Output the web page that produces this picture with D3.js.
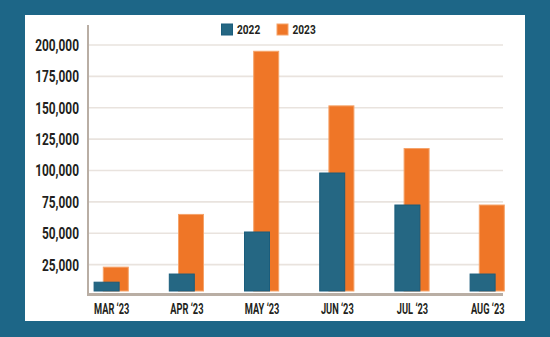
<!DOCTYPE html>
<html><head><meta charset="utf-8">
<script src="https://cdn.jsdelivr.net/npm/d3@7"></script>
<style>
html,body{margin:0;padding:0;background:#1d6687;}
svg{display:block;}
text{font-family:Roboto,"Liberation Sans",sans-serif;font-weight:bold;fill:#231f20;}
</style></head><body>
<svg id="c" width="550" height="337"></svg>
<script>
const months = ["MAR \u201823","APR \u201823","MAY \u201823","JUN \u201823","JUL \u201823","AUG \u201823"];
const values2022 = [11000, 17500, 51000, 98000, 72500, 17500];
const values2023 = [23000, 65000, 195000, 151500, 117500, 72500];
const seriesNames = ["2022","2023"];
const yTicks = [25000,50000,75000,100000,125000,150000,175000,200000];

const FONT = "Roboto,'Liberation Sans',sans-serif";
const svg = d3.select("#c");
svg.append("rect").attr("x",0).attr("y",0).attr("width",550).attr("height",337).attr("fill","#1d6687");
svg.append("rect").attr("x",25).attr("y",15).attr("width",500).attr("height",306).attr("fill","#ffffff");

const y = d3.scaleLinear().domain([0,200000]).range([296,45]);
const x = d3.scalePoint().domain(months).range([111.2,487.2]);
const bw = 26, off = 4.6;

// gridlines
svg.append("g").selectAll("line").data(yTicks).join("line")
  .attr("x1",89).attr("x2",503).attr("y1",d=>y(d)).attr("y2",d=>y(d))
  .attr("stroke","#e9e3de").attr("stroke-width",1.6);

// y axis labels
const yAxis = d3.axisLeft(y).tickValues(yTicks).tickFormat(d3.format(",")).tickSize(0).tickPadding(0);
const ga = svg.append("g").attr("transform","translate(79,0)").call(yAxis);
ga.select(".domain").remove();
ga.selectAll("text").attr("font-size",17).attr("fill","#231f20").attr("x",0)
  .attr("font-family",FONT).attr("font-weight","bold").attr("transform","scale(0.7,1)");

// bars 2023 (behind)
svg.append("g").selectAll("rect").data(values2023).join("rect")
  .attr("x",(d,i)=>x(months[i])+off-bw/2+0.5).attr("width",bw-1)
  .attr("y",d=>y(d)).attr("height",d=>y(0)-5-y(d))
  .attr("fill","#ef7627").attr("stroke","#f5a36a").attr("stroke-width",1);
// bars 2022 (front)
svg.append("g").selectAll("rect").data(values2022).join("rect")
  .attr("x",(d,i)=>x(months[i])-off-bw/2+0.5).attr("width",bw-1)
  .attr("y",d=>y(d)).attr("height",d=>y(0)-5-y(d))
  .attr("fill","#256783").attr("stroke","#1a5d7c").attr("stroke-width",1);

// axes lines
svg.append("line").attr("x1",88).attr("x2",88).attr("y1",25).attr("y2",296).attr("stroke","#b9aea4").attr("stroke-width",2);
svg.append("line").attr("x1",87).attr("x2",503).attr("y1",294.5).attr("y2",294.5).attr("stroke","#b9aea4").attr("stroke-width",3);

// x labels
const xAxis = d3.axisBottom(x).tickSize(0).tickPadding(0);
const gx = svg.append("g").attr("transform","translate(0,304)").call(xAxis);
gx.select(".domain").remove();
gx.selectAll("text").attr("font-size",14).attr("fill","#231f20").attr("y",0).attr("dy","0.71em")
  .attr("font-family",FONT).attr("font-weight","bold").attr("transform","scale(0.66,1)");

// legend
const colors = ["#256783","#ef7627"];
const strokes = ["#1a5d7c","#f5a36a"];
const lx = [221, 276.5];
const lg = svg.append("g").selectAll("g").data(seriesNames).join("g")
  .attr("transform",(d,i)=>`translate(${lx[i]},23.5)`);
lg.append("rect").attr("x",0.5).attr("y",0.5).attr("width",11).attr("height",11)
  .attr("fill",(d,i)=>colors[i]).attr("stroke",(d,i)=>strokes[i]);
lg.append("text").attr("transform","translate(16,6) scale(0.75,1)").attr("dy","0.36em").attr("font-size",13.5).text(d=>d);
</script></body></html>
